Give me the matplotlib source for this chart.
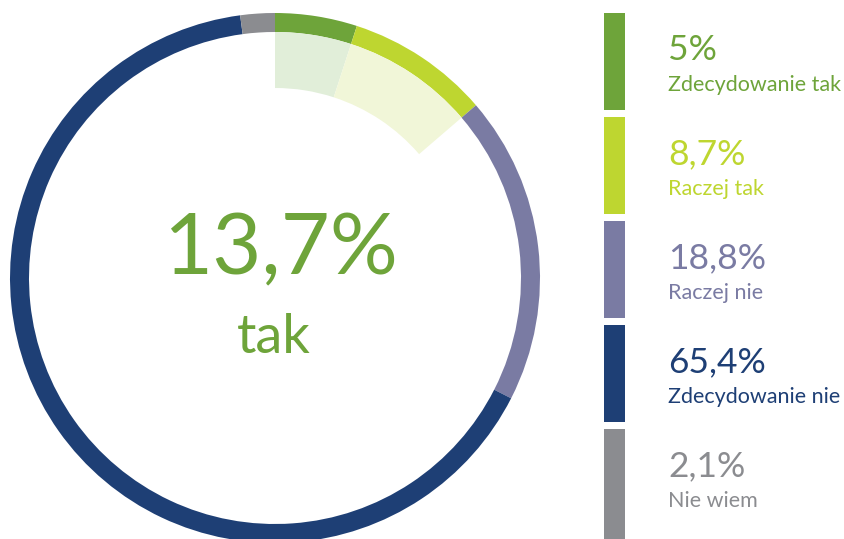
import matplotlib
import matplotlib.pyplot as plt

# dane
labels = ['Zdecydowanie tak', 'Raczej tak', 'Raczej nie', 'Zdecydowanie nie', 'Nie wiem']
values = [5.0, 8.7, 18.8, 65.4, 2.1]
value_texts = ['5%', '8,7%', '18,8%', '65,4%', '2,1%']
colors = ['#6ea43a', '#bed630', '#7a7ba3', '#1e3f75', '#8b8c90']
pale_colors = ['#e1eed9', '#f1f6d8']
total_text = '13,7%'
total_label = 'tak'

plt.rcParams['font.family'] = ['Lato', 'DejaVu Sans']

W, H = 845, 539
fig = plt.figure(figsize=(W / 100, H / 100), dpi=100)
ax = fig.add_axes([0, 0, 1, 1])

cx, cy = 275, H - 278
R = 265

# pierścień
ax.pie(values, colors=colors, radius=R, center=(cx, cy), startangle=90,
       counterclock=False, wedgeprops=dict(width=19, linewidth=0))

# jasne wycinki dla odpowiedzi "tak"
yes = values[:2]
ax.pie(yes + [100 - sum(yes)], colors=pale_colors + ['none'], radius=R - 19,
       center=(cx, cy), startangle=90, counterclock=False,
       wedgeprops=dict(width=56, linewidth=0))

ax.text(cx + 5, H - 250, total_text, color=colors[0], fontsize=61,
        ha='center', va='center')
ax.text(cx - 1, H - 353, total_label, color=colors[0], fontsize=39,
        ha='center', va='baseline')

# legenda
top0, pitch, bh = 13, 104, 97
for i, (lab, vt, c) in enumerate(zip(labels, value_texts, colors)):
    top = top0 + i * pitch
    h = bh if i < len(labels) - 1 else bh + 20
    ax.bar(614.5, h, width=21, bottom=H - top - h, color=c, linewidth=0)
    ax.text(668, H - (top + 47), vt, color=c, fontsize=25.5,
            ha='left', va='baseline')
    ax.text(668, H - (top + 78), lab, color=c, fontsize=15.5,
            ha='left', va='baseline')

ax.set_xlim(0, W)
ax.set_ylim(0, H)
ax.set_aspect('auto')
ax.axis('off')
fig.savefig('out.png', dpi=100)
